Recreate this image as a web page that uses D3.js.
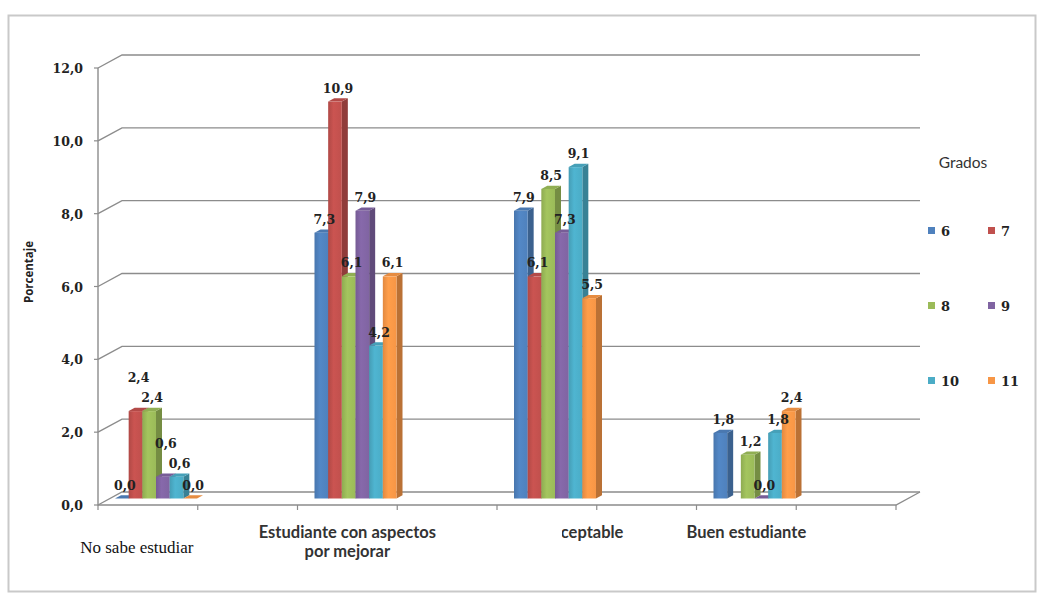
<!DOCTYPE html>
<html>
<head>
<meta charset="utf-8">
<script src="https://cdn.jsdelivr.net/npm/d3@7"></script>
<style>
  html, body { margin: 0; padding: 0; background: #ffffff; }
  svg { display: block; }
</style>
</head>
<body>
<svg id="chart" width="1040" height="601"></svg>
<script>
// Categories and series (grades)
const categories = ["No sabe estudiar", "Estudiante con aspectos por mejorar", "Estudiante aceptable", "Buen estudiante"];
const grades = ["6", "7", "8", "9", "10", "11"];

// Percentage per grade, one value per category (null = no data)
const grade6  = [0.0, 7.3, 7.9, 1.8];
const grade7  = [2.4, 10.9, 6.1, null];
const grade8  = [2.4, 6.1, 8.5, 1.2];
const grade9  = [0.6, 7.9, 7.3, 0.0];
const grade10 = [0.6, 4.2, 9.1, 1.8];
const grade11 = [0.0, 6.1, 5.5, 2.4];

const yTicks = [0, 2, 4, 6, 8, 10, 12];

const seriesValues = [grade6, grade7, grade8, grade9, grade10, grade11];
const colors = ["#4f81bd", "#c0504d", "#9bbb59", "#8064a2", "#4bacc6", "#f79646"];

const loc = d3.formatLocale({ decimal: ",", thousands: ".", grouping: [3], currency: ["", ""] });
const fmt = loc.format(".1f");

const svg = d3.select("#chart");

// Outer chart frame
svg.append("rect")
  .attr("x", 8.5).attr("y", 15.5).attr("width", 1027).attr("height", 576)
  .attr("fill", "none").attr("stroke", "#c9c9c9").attr("stroke-width", 2);

// Oblique projection of the plot depth
const depth = { dx: 24, dy: -13 };
const barZ0 = 0.5, barZ1 = 0.75;

const y = d3.scaleLinear().domain([0, 12]).range([505, 68]);
const x = d3.scaleBand().domain(categories).range([98, 896]);
const inner = d3.scaleBand().domain(grades).range([5, 87]);

const xLeft = 98, xRight = 896;
const gridColor = "#8c8c8c";

// Back wall gridlines and their diagonals on the side wall
const grid = svg.append("g");
yTicks.forEach(t => {
  const yf = y(t);
  grid.append("path")
    .attr("d", `M${xLeft},${yf}L${xLeft + depth.dx},${yf + depth.dy}L${xRight + depth.dx},${yf + depth.dy}`)
    .attr("fill", "none").attr("stroke", gridColor).attr("stroke-width", 1.4);
});
// Floor front edge and right diagonal
grid.append("path")
  .attr("d", `M${xLeft},${y(0)}L${xRight},${y(0)}L${xRight + depth.dx},${y(0) + depth.dy}`)
  .attr("fill", "none").attr("stroke", gridColor).attr("stroke-width", 1.4);
// Vertical value axis
grid.append("line")
  .attr("x1", xLeft).attr("x2", xLeft).attr("y1", y(0) + 0.5).attr("y2", y(12))
  .attr("stroke", gridColor).attr("stroke-width", 1.4);
// Value axis ticks
yTicks.forEach(t => {
  grid.append("line")
    .attr("x1", xLeft - 4).attr("x2", xLeft).attr("y1", y(t)).attr("y2", y(t))
    .attr("stroke", gridColor).attr("stroke-width", 1.2);
});
// Category ticks at every half band
const halfStep = x.step() / 2;
d3.range(0, 9).forEach(i => {
  const tx = xLeft + i * halfStep;
  grid.append("line")
    .attr("x1", tx).attr("x2", tx).attr("y1", y(0)).attr("y2", y(0) + 5)
    .attr("stroke", gridColor).attr("stroke-width", 1.2);
});

// Value axis labels
svg.append("g").selectAll("text").data(yTicks).join("text")
  .attr("x", 83).attr("y", d => y(d) + 5)
  .attr("text-anchor", "end")
  .attr("font-family", "DejaVu Serif").attr("font-weight", "bold")
  .attr("font-size", 12.5).attr("fill", "#222")
  .text(d => fmt(d));

// Axis title
svg.append("text")
  .attr("transform", "translate(33,272) rotate(-90)")
  .attr("text-anchor", "middle")
  .attr("font-family", "Open Sans").attr("font-weight", "bold")
  .attr("font-size", 11.5).attr("fill", "#222")
  .text("Porcentaje");

// Gradients for front faces
const defs = svg.append("defs");
colors.forEach((c, i) => {
  const g = defs.append("linearGradient").attr("id", "grad" + i)
    .attr("x1", "0%").attr("x2", "100%").attr("y1", "0%").attr("y2", "0%");
  g.append("stop").attr("offset", "0%").attr("stop-color", d3.color(c).darker(0.25));
  g.append("stop").attr("offset", "40%").attr("stop-color", d3.color(c).brighter(0.15));
  g.append("stop").attr("offset", "100%").attr("stop-color", c);
});

// Bars
const bars = svg.append("g");
const ox0 = depth.dx * barZ0, oy0 = depth.dy * barZ0;
const bdx = depth.dx * (barZ1 - barZ0), bdy = depth.dy * (barZ1 - barZ0);
const labelsByCat = categories.map(() => []);

categories.forEach((cat, ci) => {
  grades.forEach((gr, si) => {
    const v = seriesValues[si][ci];
    if (v === null) return;
    const x0 = x(cat) + inner(gr) + ox0;
    const x1 = x0 + inner.bandwidth();
    const yb = y(0) + oy0;
    const yt = y(v) + oy0;
    const c = colors[si];
    // side face
    bars.append("path")
      .attr("d", `M${x1},${yb}L${x1 + bdx},${yb + bdy}L${x1 + bdx},${yt + bdy}L${x1},${yt}Z`)
      .attr("fill", d3.color(c).darker(0.8));
    // top face
    bars.append("path")
      .attr("d", `M${x0},${yt}L${x0 + bdx},${yt + bdy}L${x1 + bdx},${yt + bdy}L${x1},${yt}Z`)
      .attr("fill", d3.color(c).darker(0.2));
    // front face
    if (yb - yt > 0) {
      bars.append("rect")
        .attr("x", x0).attr("y", yt).attr("width", x1 - x0).attr("height", yb - yt)
        .attr("fill", `url(#grad${si})`);
    }
    labelsByCat[ci].push({ x: (x0 + x1) / 2 + bdx / 2, y: yt - 9, v });
  });
});

// Lift a data label above its right-hand neighbours when they collide
const labW = 24, labH = 14;
const labels = [];
labelsByCat.forEach(list => {
  const placed = [];
  for (let i = list.length - 1; i >= 0; i--) {
    const d = list[i];
    let moved = true;
    while (moved) {
      moved = false;
      for (const p of placed) {
        if (Math.abs(p.x - d.x) < labW && Math.abs(p.y - d.y) < labH) {
          d.y = p.y - labH - 6;
          moved = true;
        }
      }
    }
    placed.push(d);
    labels.push(d);
  }
});

// Data labels
svg.append("g").selectAll("text").data(labels).join("text")
  .attr("x", d => d.x).attr("y", d => d.y)
  .attr("text-anchor", "middle")
  .attr("font-family", "DejaVu Serif").attr("font-weight", "bold")
  .attr("font-size", 12.5).attr("fill", "#222")
  .text(d => fmt(d.v));

// Category labels
const catG = svg.append("g");
defs.append("clipPath").attr("id", "catClip")
  .append("rect").attr("x", 562).attr("y", 500).attr("width", 200).attr("height", 80);

categories.forEach((cat, ci) => {
  const cx = x(cat) + halfStep / 2;
  if (ci === 0) {
    catG.append("text")
      .attr("x", cx - 11).attr("y", 553)
      .attr("text-anchor", "middle")
      .attr("font-family", "Liberation Serif").attr("font-size", 17).attr("fill", "#111")
      .text(cat);
    return;
  }
  const lines = ci === 1 ? ["Estudiante con aspectos", "por mejorar"] : [cat];
  const t = catG.append("text")
    .attr("text-anchor", "middle")
    .attr("font-family", "Lato").attr("font-weight", "bold")
    .attr("font-size", 16.5).attr("fill", "#333");
  if (ci === 2) t.attr("clip-path", "url(#catClip)");
  lines.forEach((ln, li) => {
    t.append("tspan").attr("x", cx).attr("y", 538 + li * 19).text(ln);
  });
});

// Legend
const legend = svg.append("g");
legend.append("text")
  .attr("x", 963).attr("y", 168).attr("text-anchor", "middle")
  .attr("font-family", "Lato").attr("font-size", 15.5).attr("fill", "#333")
  .text("Grados");
grades.forEach((gr, i) => {
  const col = i % 2, row = Math.floor(i / 2);
  const lx = 928 + col * 60, ly = 231 + row * 75;
  legend.append("rect")
    .attr("x", lx).attr("y", ly - 4).attr("width", 7).attr("height", 7)
    .attr("fill", colors[i]);
  legend.append("text")
    .attr("x", lx + 13).attr("y", ly + 5)
    .attr("font-family", "DejaVu Serif").attr("font-weight", "bold")
    .attr("font-size", 13).attr("fill", "#222")
    .text(gr);
});
</script>
</body>
</html>
